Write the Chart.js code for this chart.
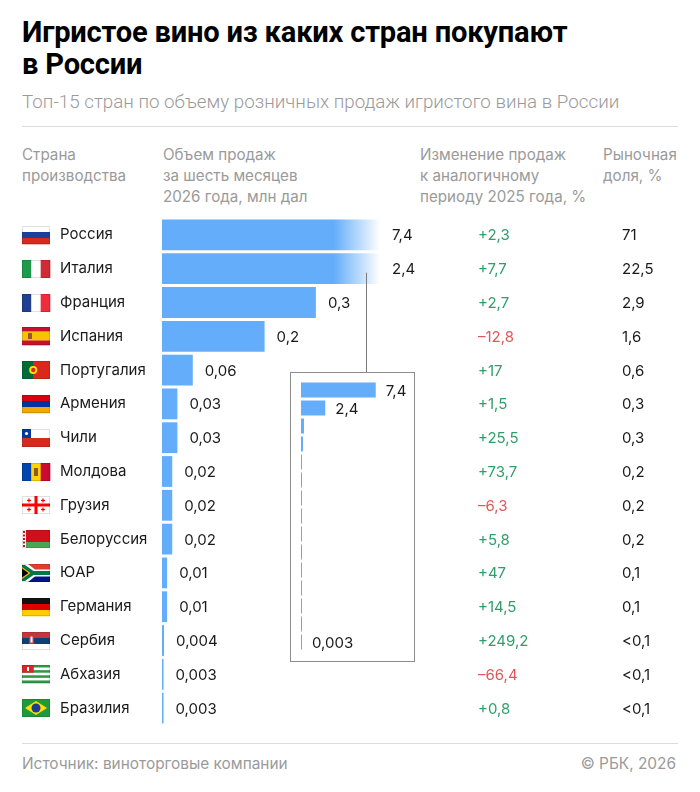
<!DOCTYPE html>
<html lang="ru">
<head>
<meta charset="utf-8">
<script src="https://cdn.jsdelivr.net/npm/chart.js@4"></script>
<style>
  body { margin: 0; background: #fff; font-family: Inter, "Noto Sans", sans-serif; color: #1a1a1a; }
  #page { position: relative; width: 700px; height: 792px; overflow: hidden; }
  .abs { position: absolute; }
  #title { left: 22px; top: 16px; font: 700 29.1px/32px Roboto, sans-serif; letter-spacing: -0.2px; color: #000; }
  #subtitle { left: 22px; top: 91px; font: 300 18.8px/22px Roboto, sans-serif; color: #9a9a9a; }
  .rule { left: 22px; width: 656px; height: 1px; background: #dcdcdc; }
  .head { top: 144px; font: 400 15.2px/21px Inter, sans-serif; color: #9a9a9a; }
  #mainWrap { left: 0; top: 200px; width: 700px; height: 534px; }
  #insetBox { left: 290px; top: 372px; width: 123px; height: 288px; border: 1px solid #8c8c8c; background: #fff; }
  .foot { top: 754px; font: 400 15.4px/20px Inter, sans-serif; color: #9a9a9a; }
</style>
</head>
<body>
<div id="page">
  <div id="title" class="abs">Игристое вино из каких стран покупают<br>в России</div>
  <div id="subtitle" class="abs">Топ-15 стран по объему розничных продаж игристого вина в России</div>
  <div class="abs rule" style="top:126px"></div>
  <div class="abs head" style="left:22px">Страна<br>производства</div>
  <div class="abs head" style="left:163px">Объем продаж<br>за шесть месяцев<br>2026 года, млн дал</div>
  <div class="abs head" style="left:420px">Изменение продаж<br>к аналогичному<br>периоду 2025 года, %</div>
  <div class="abs head" style="left:603px">Рыночная<br>доля, %</div>
  <div id="mainWrap" class="abs"><canvas id="mainChart"></canvas></div>
  <div id="insetBox" class="abs"><canvas id="insetChart"></canvas></div>
  <div class="abs rule" style="top:743px"></div>
  <div class="abs foot" style="left:22px">Источник: виноторговые компании</div>
  <div class="abs foot" style="right:24px">© РБК, 2026</div>
</div>
<script>
// data
var countries = ['Россия', 'Италия', 'Франция', 'Испания', 'Португалия', 'Армения', 'Чили', 'Молдова',
  'Грузия', 'Белоруссия', 'ЮАР', 'Германия', 'Сербия', 'Абхазия', 'Бразилия'];
var flagCodes = ['ru', 'it', 'fr', 'es', 'pt', 'am', 'cl', 'md', 'ge', 'by', 'za', 'de', 'rs', 'ab', 'br'];
var volume = [7.4, 2.4, 0.3, 0.2, 0.06, 0.03, 0.03, 0.02, 0.02, 0.02, 0.01, 0.01, 0.004, 0.003, 0.003];
var change = [2.3, 7.7, 2.7, -12.8, 17, 1.5, 25.5, 73.7, -6.3, 5.8, 47, 14.5, 249.2, -66.4, 0.8];
var share = ['71', '22,5', '2,9', '1,6', '0,6', '0,3', '0,3', '0,2', '0,2', '0,2', '0,1', '0,1', '<0,1', '<0,1', '<0,1'];
var insetLabelled = [0, 1, 14]; // which bars carry a value in the small full-scale chart

var BLUE = '#64adfa';
var FONT = '15px Inter, sans-serif';

function fmt(v) { return String(v).replace('.', ','); }
function fmtChange(v) { return (v < 0 ? '–' : '+') + fmt(Math.abs(v)); }

// flags, very simplified
function hStripes(c, x, y, w, h, cols) {
  var s = h / cols.length;
  cols.forEach(function(col, i) { c.fillStyle = col; c.fillRect(x, y + i * s, w, s + 0.3); });
}
function vStripes(c, x, y, w, h, cols) {
  var s = w / cols.length;
  cols.forEach(function(col, i) { c.fillStyle = col; c.fillRect(x + i * s, y, s + 0.3, h); });
}
function drawFlag(c, code, x, y, w, h) {
  c.save();
  switch (code) {
    case 'ru': hStripes(c, x, y, w, h, ['#ffffff', '#1c3f9e', '#d52b1e']); break;
    case 'it': vStripes(c, x, y, w, h, ['#1f9a4b', '#ffffff', '#cf2b37']); break;
    case 'fr': vStripes(c, x, y, w, h, ['#23408f', '#ffffff', '#ee2c3c']); break;
    case 'es':
      hStripes(c, x, y, w, h, ['#c8102e', '#f6c400', '#f6c400', '#c8102e']);
      c.fillStyle = '#a0522d'; c.fillRect(x + 6, y + 6, 4, 6); break;
    case 'pt':
      c.fillStyle = '#da291c'; c.fillRect(x, y, w, h);
      c.fillStyle = '#046a38'; c.fillRect(x, y, w * 0.4, h);
      c.fillStyle = '#ffe900'; c.beginPath(); c.arc(x + w * 0.4, y + h / 2, 4, 0, Math.PI * 2); c.fill();
      c.fillStyle = '#da291c'; c.beginPath(); c.arc(x + w * 0.4, y + h / 2, 2.2, 0, Math.PI * 2); c.fill(); break;
    case 'am': hStripes(c, x, y, w, h, ['#d90012', '#0033a0', '#f2a800']); break;
    case 'cl':
      c.fillStyle = '#ffffff'; c.fillRect(x, y, w, h / 2);
      c.fillStyle = '#d52b1e'; c.fillRect(x, y + h / 2, w, h / 2);
      c.fillStyle = '#0039a6'; c.fillRect(x, y, h / 2, h / 2);
      c.fillStyle = '#ffffff'; c.beginPath(); c.arc(x + h / 4, y + h / 4, 1.6, 0, Math.PI * 2); c.fill(); break;
    case 'md':
      vStripes(c, x, y, w, h, ['#0046ae', '#ffd200', '#cc092f']);
      c.fillStyle = '#8b5a2b'; c.fillRect(x + w / 2 - 2, y + 5, 4, 8); break;
    case 'ge':
      c.fillStyle = '#ffffff'; c.fillRect(x, y, w, h);
      c.fillStyle = '#ff0000';
      c.fillRect(x + w / 2 - 1.5, y, 3, h); c.fillRect(x, y + h / 2 - 1.5, w, 3);
      [[x + w * 0.25, y + h * 0.25], [x + w * 0.75, y + h * 0.25], [x + w * 0.25, y + h * 0.75], [x + w * 0.75, y + h * 0.75]].forEach(function(p) {
        c.fillRect(p[0] - 0.6, p[1] - 2, 1.2, 4); c.fillRect(p[0] - 2, p[1] - 0.6, 4, 1.2);
      }); break;
    case 'by':
      c.fillStyle = '#cf101a'; c.fillRect(x, y, w, h * 2 / 3);
      c.fillStyle = '#4aa657'; c.fillRect(x, y + h * 2 / 3, w, h / 3);
      c.fillStyle = '#ffffff'; c.fillRect(x, y, 4, h);
      c.fillStyle = '#cf101a';
      for (var k = 0; k < 5; k++) c.fillRect(x + 1, y + 1 + k * 3.5, 2, 2); break;
    case 'za':
      c.fillStyle = '#e03c31'; c.fillRect(x, y, w, h / 2);
      c.fillStyle = '#001489'; c.fillRect(x, y + h / 2, w, h / 2);
      c.fillStyle = '#ffffff';
      c.beginPath(); c.moveTo(x, y); c.lineTo(x + 6, y); c.lineTo(x + 13, y + h / 2 - 3.5); c.lineTo(x + w, y + h / 2 - 3.5);
      c.lineTo(x + w, y + h / 2 + 3.5); c.lineTo(x + 13, y + h / 2 + 3.5); c.lineTo(x + 6, y + h); c.lineTo(x, y + h); c.closePath(); c.fill();
      c.fillStyle = '#007749';
      c.beginPath(); c.moveTo(x, y + 1); c.lineTo(x + 3, y + 1); c.lineTo(x + 11.5, y + h / 2 - 2); c.lineTo(x + w, y + h / 2 - 2);
      c.lineTo(x + w, y + h / 2 + 2); c.lineTo(x + 11.5, y + h / 2 + 2); c.lineTo(x + 3, y + h - 1); c.lineTo(x, y + h - 1); c.closePath(); c.fill();
      c.fillStyle = '#ffb81c';
      c.beginPath(); c.moveTo(x, y + 3); c.lineTo(x + 8.5, y + h / 2); c.lineTo(x, y + h - 3); c.closePath(); c.fill();
      c.fillStyle = '#000000';
      c.beginPath(); c.moveTo(x, y + 4.5); c.lineTo(x + 6.5, y + h / 2); c.lineTo(x, y + h - 4.5); c.closePath(); c.fill(); break;
    case 'de': hStripes(c, x, y, w, h, ['#111111', '#dd0000', '#ffce00']); break;
    case 'rs':
      hStripes(c, x, y, w, h, ['#c6363c', '#0c4076', '#ffffff']);
      c.fillStyle = '#c6363c'; c.fillRect(x + 7, y + 3, 5, 9);
      c.fillStyle = '#ffffff'; c.fillRect(x + 8.5, y + 4.5, 2, 6); break;
    case 'ab':
      hStripes(c, x, y, w, h, ['#2e9a4a', '#ffffff', '#2e9a4a', '#ffffff', '#2e9a4a', '#ffffff', '#2e9a4a']);
      c.fillStyle = '#d8262b'; c.fillRect(x, y, w * 0.42, h * 3 / 7);
      c.fillStyle = '#ffffff'; c.fillRect(x + 5, y + 2, 2, 4); break;
    case 'br':
      c.fillStyle = '#1f9a3a'; c.fillRect(x, y, w, h);
      c.fillStyle = '#ffdf00';
      c.beginPath(); c.moveTo(x + w / 2, y + 2); c.lineTo(x + w - 3, y + h / 2); c.lineTo(x + w / 2, y + h - 2); c.lineTo(x + 3, y + h / 2); c.closePath(); c.fill();
      c.fillStyle = '#1d3b8f'; c.beginPath(); c.arc(x + w / 2, y + h / 2, 4.5, 0, Math.PI * 2); c.fill(); break;
  }
  c.strokeStyle = 'rgba(0,0,0,0.12)'; c.lineWidth = 1;
  c.strokeRect(x + 0.5, y + 0.5, w - 1, h - 1);
  c.restore();
}

// bars for Russia and Italy run off the short scale, so fill fades out at the edge
function fadeFill(ctx) {
  var area = ctx.chart.chartArea;
  if (!area) return BLUE;
  var g = ctx.chart.ctx.createLinearGradient(area.right - 46, 0, area.right, 0);
  g.addColorStop(0, BLUE);
  g.addColorStop(1, 'rgba(100,173,250,0)');
  return g;
}

var tablePlugin = {
  id: 'tableCols',
  afterDatasetsDraw: function(chart) {
    var c = chart.ctx, area = chart.chartArea, yScale = chart.scales.y;
    var meta = chart.getDatasetMeta(0);
    c.save();
    c.font = FONT;
    c.textBaseline = 'middle';
    c.textAlign = 'left';
    meta.data.forEach(function(bar, i) {
      var y = yScale.getPixelForValue(i);
      c.fillStyle = '#1a1a1a';
      c.fillText(fmt(volume[i]), Math.min(bar.x, area.right) + 12, y + 1);
      c.fillStyle = change[i] < 0 ? '#e0575b' : '#2f9e6a';
      c.fillText(fmtChange(change[i]), 478, y + 1);
      c.fillStyle = '#1a1a1a';
      c.fillText(share[i], 622, y + 1);
      drawFlag(c, flagCodes[i], 22, Math.round(y - 9), 28, 18);
    });
    // pointer from the cut bars to the full-scale inset
    var yIt = yScale.getPixelForValue(1);
    c.strokeStyle = '#7a7a7a';
    c.lineWidth = 1;
    c.beginPath();
    c.moveTo(366.5, yIt + 4);
    c.lineTo(366.5, 172);
    c.stroke();
    c.restore();
  }
};

new Chart(document.getElementById('mainChart'), {
  type: 'bar',
  data: {
    labels: countries,
    datasets: [{
      data: volume,
      backgroundColor: fadeFill,
      borderWidth: 0,
      barPercentage: 31 / 34,
      categoryPercentage: 1,
      clip: 0
    }]
  },
  options: {
    indexAxis: 'y',
    responsive: true,
    maintainAspectRatio: false,
    animation: false,
    layout: { padding: { left: 60, right: 320, top: 18, bottom: 3 } },
    plugins: { legend: { display: false }, tooltip: { enabled: false } },
    scales: {
      x: { display: false, min: 0, max: 0.425 },
      y: {
        grid: { display: false },
        border: { display: false },
        ticks: { crossAlign: 'far', color: '#1a1a1a', font: { family: 'Inter', size: 15 }, padding: 0 },
        afterFit: function(scale) { scale.width = 102; }
      }
    }
  },
  plugins: [tablePlugin]
});

var insetPlugin = {
  id: 'insetLabels',
  afterDatasetsDraw: function(chart) {
    var c = chart.ctx;
    var meta = chart.getDatasetMeta(0);
    c.save();
    c.font = FONT;
    c.fillStyle = '#1a1a1a';
    c.textBaseline = 'middle';
    insetLabelled.forEach(function(i) {
      var bar = meta.data[i];
      c.fillText(fmt(volume[i]), bar.x + 10, bar.y + 1);
    });
    c.restore();
  }
};

new Chart(document.getElementById('insetChart'), {
  type: 'bar',
  data: {
    labels: countries,
    datasets: [{
      data: volume,
      backgroundColor: BLUE,
      borderWidth: 0,
      barPercentage: 15 / 18,
      categoryPercentage: 1,
      minBarLength: 1
    }]
  },
  options: {
    indexAxis: 'y',
    responsive: true,
    maintainAspectRatio: false,
    animation: false,
    layout: { padding: { left: 10, right: 13, top: 8, bottom: 10 } },
    plugins: { legend: { display: false }, tooltip: { enabled: false } },
    scales: {
      x: { display: false, min: 0, max: 9.9 },
      y: { display: false }
    }
  },
  plugins: [insetPlugin]
});
</script>
</body>
</html>
